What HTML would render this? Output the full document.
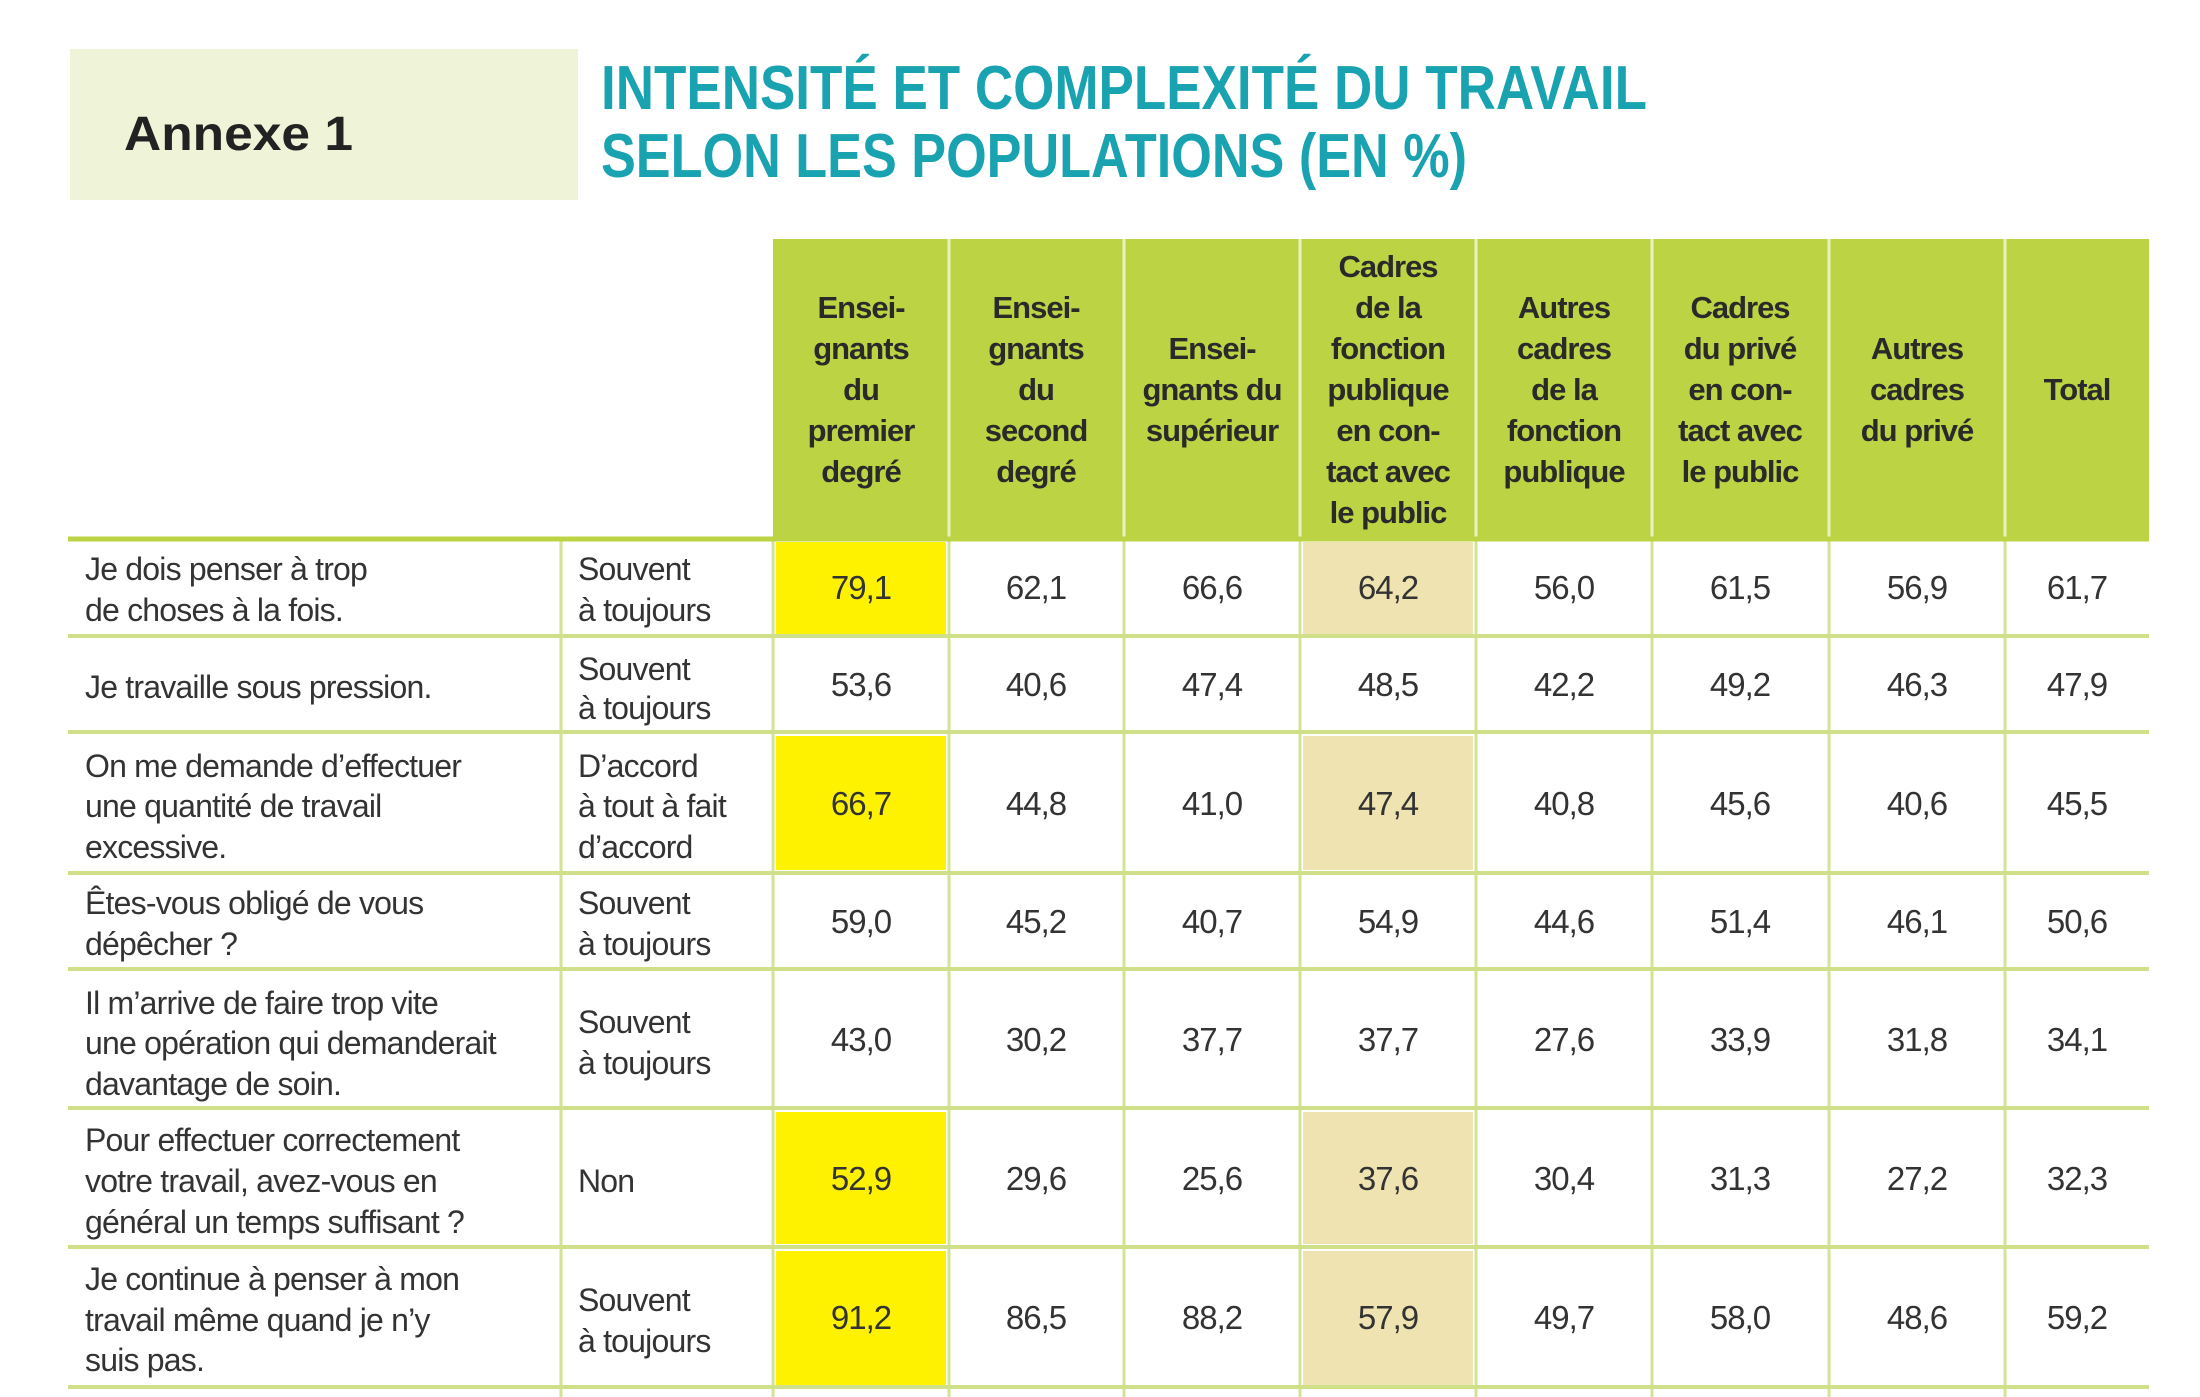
<!DOCTYPE html>
<html><head><meta charset="utf-8"><style>
html,body{margin:0;padding:0;background:#fff;}
svg{display:block;}
.h{font-family:"Liberation Sans",sans-serif;font-weight:bold;font-size:31px;fill:#2a2a2a;text-anchor:middle;letter-spacing:-1px;}
.q{font-family:"Liberation Sans",sans-serif;font-size:32px;fill:#333;letter-spacing:-0.8px;}
.n{font-family:"Liberation Sans",sans-serif;font-size:33px;fill:#333;text-anchor:middle;letter-spacing:-1px;}
</style></head><body>
<svg width="2200" height="1397" viewBox="0 0 2200 1397" xmlns="http://www.w3.org/2000/svg">
<rect x="70" y="49" width="508" height="151" fill="#eff4d8"/>
<text x="124" y="150" font-family="Liberation Sans,sans-serif" font-weight="bold" font-size="48" fill="#222" textLength="229" lengthAdjust="spacingAndGlyphs">Annexe 1</text>
<text x="601" y="109" font-family="Liberation Sans,sans-serif" font-weight="bold" font-size="62" fill="#19a2b0" textLength="1046" lengthAdjust="spacingAndGlyphs">INTENSITÉ ET COMPLEXITÉ DU TRAVAIL</text>
<text x="601" y="177" font-family="Liberation Sans,sans-serif" font-weight="bold" font-size="62" fill="#19a2b0" textLength="866" lengthAdjust="spacingAndGlyphs">SELON LES POPULATIONS (EN %)</text>

<!-- header -->
<rect x="773" y="239" width="1376" height="300" fill="#bcd444"/>
<g stroke="#e8f0c4" stroke-width="3">
<line x1="949" y1="239" x2="949" y2="539"/><line x1="1124" y1="239" x2="1124" y2="539"/><line x1="1300" y1="239" x2="1300" y2="539"/><line x1="1476" y1="239" x2="1476" y2="539"/><line x1="1652" y1="239" x2="1652" y2="539"/><line x1="1829" y1="239" x2="1829" y2="539"/><line x1="2005" y1="239" x2="2005" y2="539"/>
</g>
<g class="h">
<text x="861" y="318">Ensei-</text><text x="861" y="359">gnants</text><text x="861" y="400">du</text><text x="861" y="441">premier</text><text x="861" y="482">degré</text>
<text x="1036" y="318">Ensei-</text><text x="1036" y="359">gnants</text><text x="1036" y="400">du</text><text x="1036" y="441">second</text><text x="1036" y="482">degré</text>
<text x="1212" y="359">Ensei-</text><text x="1212" y="400">gnants du</text><text x="1212" y="441">supérieur</text>
<text x="1388" y="277">Cadres</text><text x="1388" y="318">de la</text><text x="1388" y="359">fonction</text><text x="1388" y="400">publique</text><text x="1388" y="441">en con-</text><text x="1388" y="482">tact avec</text><text x="1388" y="523">le public</text>
<text x="1564" y="318">Autres</text><text x="1564" y="359">cadres</text><text x="1564" y="400">de la</text><text x="1564" y="441">fonction</text><text x="1564" y="482">publique</text>
<text x="1740" y="318">Cadres</text><text x="1740" y="359">du privé</text><text x="1740" y="400">en con-</text><text x="1740" y="441">tact avec</text><text x="1740" y="482">le public</text>
<text x="1917" y="359">Autres</text><text x="1917" y="400">cadres</text><text x="1917" y="441">du privé</text>
<text x="2077" y="400">Total</text>
</g>

<!-- highlights -->
<g fill="#fff200">
<rect x="776" y="542" width="170" height="92"/><rect x="776" y="736" width="170" height="134"/><rect x="776" y="1112" width="170" height="132"/><rect x="776" y="1251" width="170" height="134"/>
</g>
<g fill="#efe3b1">
<rect x="1303" y="542" width="170" height="92"/><rect x="1303" y="736" width="170" height="134"/><rect x="1303" y="1112" width="170" height="132"/><rect x="1303" y="1251" width="170" height="134"/>
</g>

<!-- grid -->
<g stroke="#d3e394" stroke-width="3">
<line x1="561" y1="539" x2="561" y2="1397"/><line x1="773" y1="539" x2="773" y2="1397"/><line x1="949" y1="539" x2="949" y2="1397"/><line x1="1124" y1="539" x2="1124" y2="1397"/><line x1="1300" y1="539" x2="1300" y2="1397"/><line x1="1476" y1="539" x2="1476" y2="1397"/><line x1="1652" y1="539" x2="1652" y2="1397"/><line x1="1829" y1="539" x2="1829" y2="1397"/><line x1="2005" y1="539" x2="2005" y2="1397"/>
</g>
<g stroke="#cfe088" stroke-width="4">
<line x1="68" y1="636" x2="2149" y2="636"/><line x1="68" y1="732" x2="2149" y2="732"/><line x1="68" y1="873" x2="2149" y2="873"/><line x1="68" y1="969" x2="2149" y2="969"/><line x1="68" y1="1108" x2="2149" y2="1108"/><line x1="68" y1="1247" x2="2149" y2="1247"/><line x1="68" y1="1387" x2="2149" y2="1387"/>
</g>
<line x1="68" y1="539" x2="2149" y2="539" stroke="#bcd444" stroke-width="5"/>

<!-- questions -->
<g class="q">
<text x="85" y="580">Je dois penser à trop</text><text x="85" y="621">de choses à la fois.</text>
<text x="578" y="580">Souvent</text><text x="578" y="621">à toujours</text>
<text x="85" y="698">Je travaille sous pression.</text>
<text x="578" y="680">Souvent</text><text x="578" y="719">à toujours</text>
<text x="85" y="777">On me demande d’effectuer</text><text x="85" y="817">une quantité de travail</text><text x="85" y="858">excessive.</text>
<text x="578" y="777">D’accord</text><text x="578" y="817">à tout à fait</text><text x="578" y="858">d’accord</text>
<text x="85" y="914">Êtes-vous obligé de vous</text><text x="85" y="955">dépêcher ?</text>
<text x="578" y="914">Souvent</text><text x="578" y="955">à toujours</text>
<text x="85" y="1014">Il m’arrive de faire trop vite</text><text x="85" y="1054">une opération qui demanderait</text><text x="85" y="1095">davantage de soin.</text>
<text x="578" y="1033">Souvent</text><text x="578" y="1074">à toujours</text>
<text x="85" y="1151">Pour effectuer correctement</text><text x="85" y="1192">votre travail, avez-vous en</text><text x="85" y="1233">général un temps suffisant ?</text>
<text x="578" y="1192">Non</text>
<text x="85" y="1290">Je continue à penser à mon</text><text x="85" y="1331">travail même quand je n’y</text><text x="85" y="1371">suis pas.</text>
<text x="578" y="1311">Souvent</text><text x="578" y="1352">à toujours</text>
</g>

<!-- numbers -->
<g class="n">
<text x="861" y="599">79,1</text><text x="1036" y="599">62,1</text><text x="1212" y="599">66,6</text><text x="1388" y="599">64,2</text><text x="1564" y="599">56,0</text><text x="1740" y="599">61,5</text><text x="1917" y="599">56,9</text><text x="2077" y="599">61,7</text>
<text x="861" y="696">53,6</text><text x="1036" y="696">40,6</text><text x="1212" y="696">47,4</text><text x="1388" y="696">48,5</text><text x="1564" y="696">42,2</text><text x="1740" y="696">49,2</text><text x="1917" y="696">46,3</text><text x="2077" y="696">47,9</text>
<text x="861" y="815">66,7</text><text x="1036" y="815">44,8</text><text x="1212" y="815">41,0</text><text x="1388" y="815">47,4</text><text x="1564" y="815">40,8</text><text x="1740" y="815">45,6</text><text x="1917" y="815">40,6</text><text x="2077" y="815">45,5</text>
<text x="861" y="933">59,0</text><text x="1036" y="933">45,2</text><text x="1212" y="933">40,7</text><text x="1388" y="933">54,9</text><text x="1564" y="933">44,6</text><text x="1740" y="933">51,4</text><text x="1917" y="933">46,1</text><text x="2077" y="933">50,6</text>
<text x="861" y="1051">43,0</text><text x="1036" y="1051">30,2</text><text x="1212" y="1051">37,7</text><text x="1388" y="1051">37,7</text><text x="1564" y="1051">27,6</text><text x="1740" y="1051">33,9</text><text x="1917" y="1051">31,8</text><text x="2077" y="1051">34,1</text>
<text x="861" y="1190">52,9</text><text x="1036" y="1190">29,6</text><text x="1212" y="1190">25,6</text><text x="1388" y="1190">37,6</text><text x="1564" y="1190">30,4</text><text x="1740" y="1190">31,3</text><text x="1917" y="1190">27,2</text><text x="2077" y="1190">32,3</text>
<text x="861" y="1329">91,2</text><text x="1036" y="1329">86,5</text><text x="1212" y="1329">88,2</text><text x="1388" y="1329">57,9</text><text x="1564" y="1329">49,7</text><text x="1740" y="1329">58,0</text><text x="1917" y="1329">48,6</text><text x="2077" y="1329">59,2</text>
</g>
</svg>
</body></html>
